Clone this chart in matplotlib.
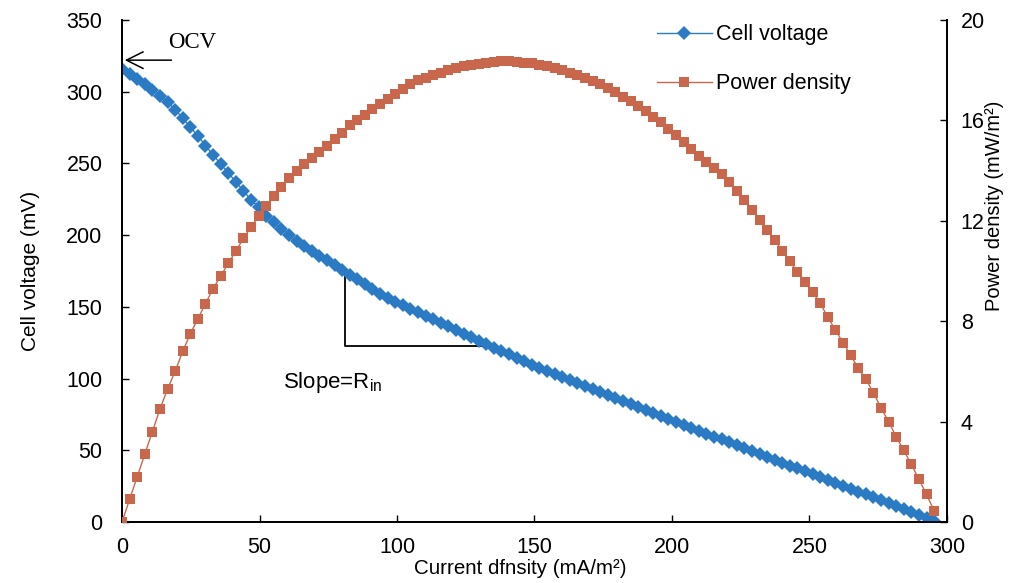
import matplotlib
matplotlib.use("Agg")
import matplotlib.pyplot as plt

plt.rcParams['font.family'] = ['Liberation Sans', 'DejaVu Sans']

# Current density (mA/m^2)
current = [
    0, 2.76, 5.52, 8.28, 11.04, 13.8, 16.56, 19.32, 22.08, 24.84,
    27.6, 30.36, 33.12, 35.88, 38.64, 41.4, 44.16, 46.92, 49.68, 52.44,
    55.2, 57.96, 60.72, 63.48, 66.24, 69.0, 71.76, 74.52, 77.28, 80.04,
    82.8, 85.56, 88.32, 91.08, 93.84, 96.6, 99.36, 102.12, 104.88, 107.64,
    110.4, 113.16, 115.92, 118.68, 121.44, 124.2, 126.96, 129.72, 132.48, 135.24,
    138.0, 140.76, 143.52, 146.28, 149.04, 151.8, 154.56, 157.32, 160.08, 162.84,
    165.6, 168.36, 171.12, 173.88, 176.64, 179.4, 182.16, 184.92, 187.68, 190.44,
    193.2, 195.96, 198.72, 201.48, 204.24, 207.0, 209.76, 212.52, 215.28, 218.04,
    220.8, 223.56, 226.32, 229.08, 231.84, 234.6, 237.36, 240.12, 242.88, 245.64,
    248.4, 251.16, 253.92, 256.68, 259.44, 262.2, 264.96, 267.72, 270.48, 273.24,
    276.0, 278.76, 281.52, 284.28, 287.04, 289.8, 292.56, 295.32,
]

# Cell voltage (mV)
voltage = [
    316, 312.5, 309, 305.5, 301.5, 297, 293, 287.5, 281.5, 275.5,
    269, 262.5, 256, 249.5, 243.5, 237, 231, 224.5, 219.5, 213.5,
    209, 204.5, 200, 196, 192.5, 189, 185.5, 182.5, 179.5, 176,
    172.5, 169.5, 166, 162.5, 159, 156.5, 153.5, 151, 148.6, 146.2,
    143.8, 141.3, 138.8, 136.4, 133.9, 131.4, 129.0, 126.5, 124.1, 121.6,
    119.2, 116.8, 114.4, 112.0, 109.6, 107.2, 105.1, 103.1, 101.0, 99.0,
    97.0, 95.0, 93.0, 90.9, 88.8, 86.7, 84.6, 82.5, 80.4, 78.3,
    76.1, 74.0, 71.9, 69.7, 67.7, 65.7, 63.7, 61.7, 59.6, 57.6,
    55.6, 53.6, 51.5, 49.5, 47.5, 45.5, 43.4, 41.4, 39.4, 37.4,
    35.4, 33.3, 31.3, 29.3, 27.3, 25.2, 23.2, 21.2, 19.2, 17.2,
    15.1, 13.1, 11.1, 9.1, 7.1, 5.0, 3.0, 1.0,
]

# Power density (mW/m^2)
power = [
    0, 0.9, 1.8, 2.7, 3.6, 4.5, 5.3, 6.0, 6.8, 7.5,
    8.1, 8.7, 9.3, 9.8, 10.3, 10.8, 11.3, 11.75, 12.2, 12.6,
    13.0, 13.35, 13.7, 14.0, 14.25, 14.5, 14.75, 15.0, 15.25, 15.5,
    15.8, 16.0, 16.2, 16.45, 16.65, 16.85, 17.05, 17.25, 17.45, 17.6,
    17.7, 17.8, 17.9, 18.0, 18.1, 18.15, 18.2, 18.25, 18.3, 18.32,
    18.35, 18.35, 18.33, 18.3, 18.27, 18.22, 18.15, 18.08, 18.0, 17.9,
    17.8, 17.7, 17.58, 17.45, 17.3, 17.12, 16.95, 16.77, 16.57, 16.37,
    16.15, 15.92, 15.67, 15.42, 15.15, 14.88, 14.6, 14.35, 14.1, 13.85,
    13.55, 13.2, 12.83, 12.45, 12.05, 11.65, 11.22, 10.8, 10.38, 9.97,
    9.55, 9.15, 8.72, 8.15, 7.65, 7.15, 6.65, 6.12, 5.7, 5.15,
    4.55, 4.0, 3.4, 2.85, 2.3, 1.7, 1.1, 0.45,
]

x_ticks = [0, 50, 100, 150, 200, 250, 300]
v_ticks = [0, 50, 100, 150, 200, 250, 300, 350]
p_ticks = [0, 4, 8, 12, 16, 20]

blue = '#2B7BC4'
orange = '#C9674C'
FS = 15.5

fig = plt.figure(figsize=(10.1, 5.83), dpi=100)
ax = fig.add_axes([0.1208, 0.1046, 0.8168, 0.8611])
ax2 = ax.twinx()

lv, = ax.plot(current, voltage, color=blue, lw=1.0, marker='D', markersize=7,
              markeredgewidth=0, label='Cell voltage', zorder=3)
lp, = ax2.plot(current, power, color=orange, lw=1.0, marker='s', markersize=7,
               markeredgewidth=0, label='Power density', zorder=3)

ax.set_xlim(0, 300)
ax.set_ylim(0, 350)
ax2.set_ylim(0, 20)
ax.set_xticks(x_ticks)
ax.set_yticks(v_ticks)
ax2.set_yticks(p_ticks)

for a in (ax, ax2):
    a.spines['top'].set_visible(False)
    for s in ('left', 'right', 'bottom'):
        a.spines[s].set_linewidth(1.3)
    a.tick_params(direction='in', length=5, width=1.0, labelsize=FS, colors='black')
ax.tick_params(axis='x', pad=11)
ax.tick_params(axis='y', pad=14)
ax2.tick_params(axis='y', pad=10)

ax.set_xlabel('Current dfnsity (mA/m²)', fontsize=14.8, va='center')
ax.xaxis.set_label_coords(0.483, -0.093)
ax.set_ylabel('Cell voltage (mV)', fontsize=15)
ax.yaxis.set_label_coords(-0.099, 0.5)
ax2.set_ylabel('Power density (mW/m²)', fontsize=14.5)
ax2.yaxis.set_label_coords(1.046, 0.63)

leg = ax.legend(handles=[lv, lp], loc='upper left', bbox_to_anchor=(0.625, 1.03),
                frameon=False, fontsize=FS, labelspacing=1.3, handlelength=2.55,
                handletextpad=0.2)

# OCV annotation
ax.annotate('', xy=(0, 322), xytext=(19, 322),
            arrowprops=dict(arrowstyle='->', color='black', lw=1.1,
                            mutation_scale=30))
ax.text(16.7, 334, 'OCV', fontsize=16.5, family='Liberation Serif', va='center', ha='left')

# Slope triangle
ax.plot([81, 81, 136.5], [172, 123, 123], color='black', lw=1.3, zorder=2)
ax.text(58.5, 97, 'Slope=R$_{\\mathregular{in}}$', fontsize=16, va='center', ha='left')

fig.savefig('out.png', dpi=100)
